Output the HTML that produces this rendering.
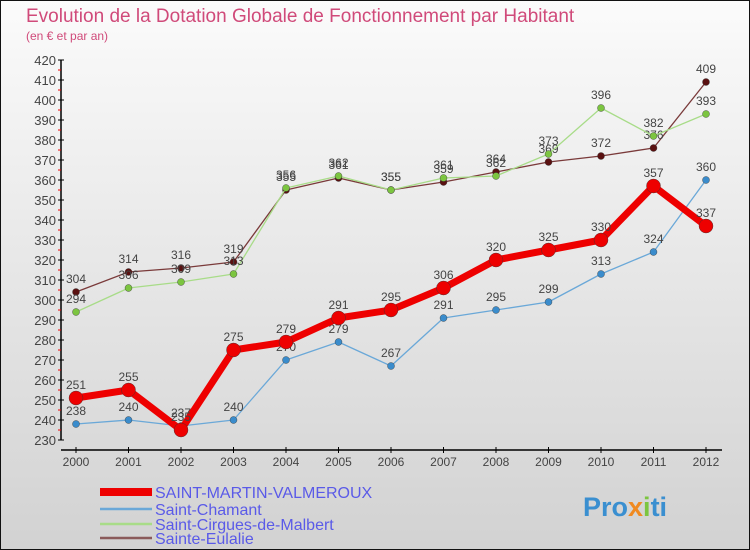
<!DOCTYPE html>
<html><head><meta charset="utf-8"><style>
body{margin:0;width:750px;height:550px;overflow:hidden;font-family:"Liberation Sans",sans-serif}
svg{display:block}
</style></head><body>
<svg id="c" width="750" height="550">
<defs><linearGradient id="bg" x1="0" y1="0" x2="0" y2="1"><stop offset="0" stop-color="#fbfbfb"/><stop offset="1" stop-color="#d2d2d2"/></linearGradient></defs>
<rect x="0.5" y="0.5" width="749" height="549" fill="url(#bg)" stroke="#111"/>
<text x="26" y="22" font-size="19" fill="#d04a7a">Evolution de la Dotation Globale de Fonctionnement par Habitant</text>
<text x="26" y="40" font-size="12" fill="#d04a7a">(en € et par an)</text>
<g id="axes"></g><g id="series"></g><g id="legend"></g>
<text x="583" y="516" font-size="27" font-weight="bold" fill="#3a8fd0">Pro<tspan fill="#f08a20">x</tspan><tspan fill="#7cc540">i</tspan>ti</text>
</svg>
<script>
const years=[2000,2001,2002,2003,2004,2005,2006,2007,2008,2009,2010,2011,2012];
const yTicks=[230,240,250,260,270,280,290,300,310,320,330,340,350,360,370,380,390,400,410,420];
const sMartin=[251,255,235,275,279,291,295,306,320,325,330,357,337];
const sChamant=[238,240,237,240,270,279,267,291,295,299,313,324,360];
const sCirgues=[294,306,309,313,356,362,355,361,362,373,396,382,393];
const sEulalie=[304,314,316,319,355,361,355,359,364,369,372,376,409];
const names=["SAINT-MARTIN-VALMEROUX","Saint-Chamant","Saint-Cirgues-de-Malbert","Sainte-Eulalie"];
const NS="http://www.w3.org/2000/svg";
const X=i=>76+i*52.5, Y=v=>440-(v-230)*2;
function mk(t,a,p){const e=document.createElementNS(NS,t);for(const k in a)e.setAttribute(k,a[k]);p.appendChild(e);return e;}
const ax=document.getElementById('axes');
let l=mk('line',{x1:61,y1:60,x2:61,y2:440,stroke:'#000','stroke-width':1.5},ax);


l=mk('line',{x1:61,y1:450,x2:722,y2:450,stroke:'#000','stroke-width':1.5},ax);


yTicks.forEach((v,i)=>{
  mk('line',{x1:58,y1:Y(v),x2:64,y2:Y(v),stroke:'#000'},ax);
  if(i<yTicks.length-1)mk('line',{x1:58,y1:Y(v)-10,x2:61,y2:Y(v)-10,stroke:'#e00'},ax);
  const t=mk('text',{x:56,y:Y(v)+5,'text-anchor':'end','font-size':13,fill:'#444'},ax);
  t.textContent=v;
  
  
});
years.forEach((yr,i)=>{
  mk('line',{x1:X(i),y1:447,x2:X(i),y2:453,stroke:'#000'},ax);
  const t=mk('text',{x:X(i),y:466,'text-anchor':'middle','font-size':12,fill:'#444'},ax);
  t.textContent=yr;
  
  
});
const sg=document.getElementById('series');
const defs=[[sEulalie,'#7a3a3a','#5a1010',1.3,3.5,'sainte-eulalie'],[sCirgues,'#a8dc88','#7cc540',1.3,3.5,'saint-cirgues'],[sChamant,'#6aa8d8','#3a8ccc',1.3,3.5,'saint-chamant'],[sMartin,'#ee0000','#ee0000',7,7,'saint-martin']];
defs.forEach(([d,lc,pc,w,r,n])=>{
  const g=mk('g',{},sg);
  
  
  const p=mk('polyline',{points:d.map((v,i)=>X(i)+','+Y(v)).join(' '),fill:'none',stroke:lc,'stroke-width':w,'stroke-linejoin':'round'},g);
  
  
  d.forEach((v,i)=>{
    const c=mk('circle',{cx:X(i),cy:Y(v),r:r,fill:pc,stroke:'#333','stroke-width':0.4},g);
    
    
    const t=mk('text',{x:X(i),y:Y(v)-9,'text-anchor':'middle','font-size':12,fill:'#444'},g);
    t.textContent=v;
    
    
  });
});
const lg=document.getElementById('legend');
const lcol=['#ee0000','#6aa8d8','#a8dc88','#8a5a5a'],lw=[8,2.5,2.5,2.5],ly=[492,509,524,538];
names.forEach((nm,i)=>{
  const g=mk('g',{},lg);
  
  
  mk('line',{x1:100,y1:ly[i],x2:152,y2:ly[i],stroke:lcol[i],'stroke-width':lw[i]},g);
  const t=mk('text',{x:155,y:ly[i]+6,'font-size':16,fill:'#5a5ae8'},g);
  t.textContent=nm;
});
</script>
</body></html>
